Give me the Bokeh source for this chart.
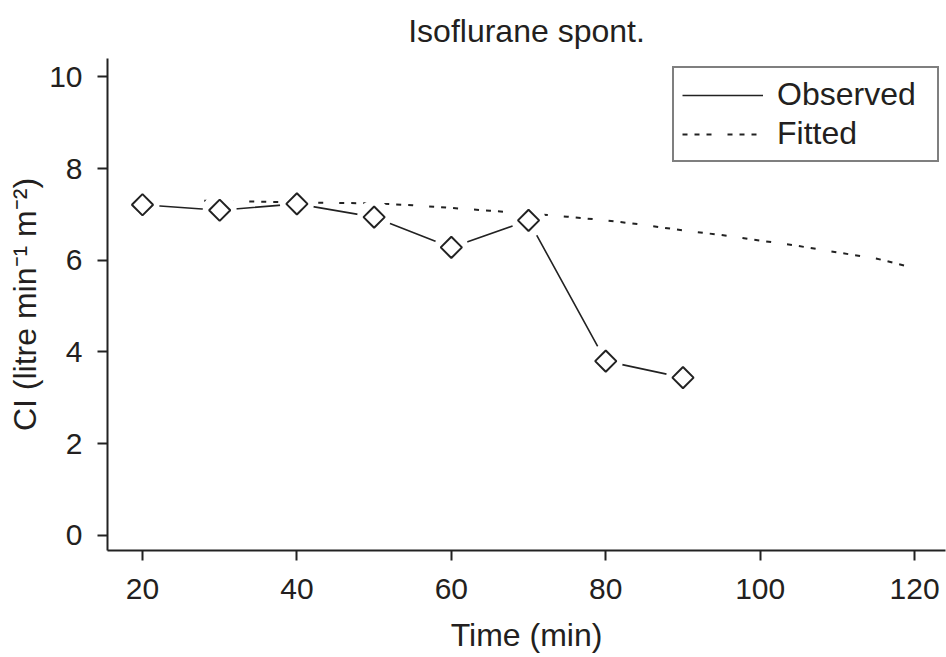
import math
from bokeh.plotting import figure
from bokeh.models import Legend, LegendItem, FixedTicker
from bokeh.embed import file_html
from bokeh.resources import INLINE

# Data
obs_time = [20, 30, 40, 50, 60, 70, 80, 90]
obs_ci = [7.21, 7.09, 7.23, 6.94, 6.28, 6.87, 3.80, 3.44]

fit_time = [28, 35, 40, 45, 50, 55, 60, 65, 70, 75, 80, 85, 90, 95, 100, 105, 110, 115, 119.5]
fit_ci = [7.30, 7.28, 7.26, 7.25, 7.24, 7.20, 7.14, 7.08, 7.02, 6.95, 6.87, 6.77, 6.65, 6.55, 6.43, 6.31, 6.17, 6.04, 5.85]

x_ticks = [20, 40, 60, 80, 100, 120]
y_ticks = [0, 2, 4, 6, 8, 10]

FONT = "Liberation Sans"
INK = "#222222"
TXT = "#231f20"

p = figure(width=946, height=657, x_range=(15.47, 124.0), y_range=(-0.33, 10.4),
           output_backend="svg", toolbar_location=None,
           min_border_left=107, min_border_right=1, min_border_top=56, min_border_bottom=107)

p.title.text = "Isoflurane spont."
p.title.align = "center"
p.title.vertical_align = "bottom"
p.title.text_font = FONT
p.title.text_font_size = "32px"
p.title.text_font_style = "normal"
p.title.text_color = TXT
p.title.standoff = 20

p.xgrid.visible = False
p.ygrid.visible = False
p.outline_line_color = None
p.background_fill_color = "white"

for ax in (p.xaxis[0], p.yaxis[0]):
    ax.axis_line_color = INK
    ax.axis_line_width = 2
    ax.major_tick_line_color = INK
    ax.major_tick_line_width = 2
    ax.major_tick_out = 10
    ax.major_tick_in = 0
    ax.minor_tick_line_color = None
    ax.major_label_text_font = FONT
    ax.major_label_text_font_size = "30px"
    ax.major_label_text_color = TXT
    ax.axis_label_text_font = FONT
    ax.axis_label_text_font_size = "32px"
    ax.axis_label_text_font_style = "normal"
    ax.axis_label_text_color = TXT

p.xaxis[0].ticker = FixedTicker(ticks=x_ticks)
p.yaxis[0].ticker = FixedTicker(ticks=y_ticks)
p.xaxis[0].axis_label = "Time (min)"
p.yaxis[0].axis_label = "CI (litre min\u207b\u00b9 m\u207b\u00b2)"
p.xaxis[0].major_label_standoff = 18
p.yaxis[0].major_label_standoff = 15
p.xaxis[0].axis_label_standoff = 15
p.yaxis[0].axis_label_standoff = 3

r_fit = p.line(fit_time, fit_ci, line_color=INK, line_width=2, line_dash="5 7 5 7 5 16")
r_obs = p.line(obs_time, obs_ci, line_color=INK, line_width=1.6)
# white halo so the lines stop short of the markers
p.scatter(obs_time, obs_ci, marker="circle", size=34, fill_color="white", line_color=None)
p.scatter(obs_time, obs_ci, marker="square", angle=math.pi / 4, size=15,
          fill_color="white", line_color=INK, line_width=2)

legend = Legend(items=[LegendItem(label="Observed", renderers=[r_obs]),
                       LegendItem(label="Fitted", renderers=[r_fit])],
                location=(565, 388))
legend.border_line_color = "#000000"
legend.border_line_width = 2
legend.background_fill_color = "white"
legend.background_fill_alpha = 1
legend.padding = 8
legend.spacing = 2
legend.margin = 0
legend.glyph_width = 81
legend.glyph_height = 30
legend.label_height = 30
legend.label_width = 152
legend.label_standoff = 14
legend.label_text_font = FONT
legend.label_text_font_size = "32px"
legend.label_text_color = TXT
legend.label_text_baseline = "middle"
p.add_layout(legend, "center")

open("out.html", "w").write(file_html(p, INLINE))
